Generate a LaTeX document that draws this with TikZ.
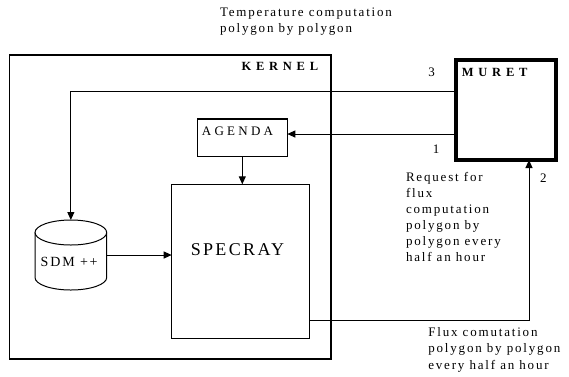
\documentclass[tikz,border=0pt]{standalone}
\usepackage{fontspec}
\setmainfont{Liberation Serif}
\newfontfamily\txtfont{Liberation Serif}[LetterSpace=14]
\newfontfamily\capfont{Liberation Serif}[LetterSpace=25]
\newfontfamily\bigfont{Liberation Serif}[LetterSpace=13]
\newfontfamily\boldcap{Liberation Serif}[LetterSpace=38]
\usetikzlibrary{arrows.meta}
\begin{document}
\begin{tikzpicture}[x=1pt,y=-1pt,
  rect/.style={draw, rectangle, inner sep=0pt, outer sep=0pt},
  thinbox/.style={rect, line width=1.3pt},
  conn/.style={line width=1pt},
  arr/.style={conn, -{Triangle[length=8pt,width=7pt]}},
  lbl/.style={inner sep=0pt, outer sep=0pt, font=\fontsize{13pt}{16pt}\selectfont\txtfont, align=left},
  num/.style={inner sep=0pt, font=\fontsize{13pt}{15pt}\selectfont\txtfont}]
\useasboundingbox (0,0) rectangle (569,376);

% boxes
\node[thinbox, minimum width=321.7pt, minimum height=304pt] (kernel) at (170.15,207) {};
\node[rect, line width=3.3pt, minimum width=100pt, minimum height=100pt] (muret) at (506,110) {};
\node[thinbox, minimum width=90pt, minimum height=37.7pt] (agenda) at (242.3,137.85) {};
\node[thinbox, minimum width=137.6pt, minimum height=154pt] (specray) at (240.5,261.3) {};
\node[inner sep=0pt, outer sep=0pt, minimum width=71.7pt, minimum height=70pt] (sdm) at (70.85,255) {};

% cylinder
\draw[conn] (70.85,232.5) ellipse [x radius=35.85pt, y radius=12.5pt];
\draw[conn] (35,232.5) -- (35,277.5) arc[start angle=180, end angle=360, x radius=35.85pt, y radius=12.5pt] -- (106.7,232.5);

% box labels
\node[inner sep=0pt, anchor=east, font=\fontsize{12.5pt}{14pt}\selectfont\boldcap\bfseries] (kernellbl) at (318.3,66) {KERNEL};
\node[inner sep=0pt, anchor=west, font=\fontsize{12.5pt}{14pt}\selectfont\boldcap\bfseries] (muretlbl) at (461.7,72.7) {MURET};
\node[inner sep=0pt, anchor=west, font=\fontsize{13pt}{15pt}\selectfont\capfont] (agendalbl) at (201.7,131) {AGENDA};
\node[inner sep=0pt, font=\fontsize{18pt}{20pt}\selectfont\bigfont] (specraylbl) at (237.5,250) {SPECRAY};
\node[inner sep=0pt, font=\fontsize{14pt}{16pt}\selectfont\bigfont] (sdmlbl) at (69.2,262.3) {SDM ++};

% connectors
\draw[arr] ([yshift=18.3pt]muret.west) -| (sdm.north);
\draw[arr] ([yshift=-24pt]muret.west) -- ([yshift=-24pt]muret.west -| agenda.east);
\draw[arr] (agenda.south) -- (agenda.south |- specray.north);
\draw[arr] (sdm.east) -- (sdm.east -| specray.west);
\draw[arr] ([yshift=-59.4pt]specray.east) -| ([xshift=23pt]muret.south);

% numbers
\node[num] (n3) at (431.7,72.7) {3};
\node[num] (n1) at (436,149.3) {1};
\node[num] (n2) at (543.3,178.3) {2};

% free texts
\node[lbl, anchor=west] (temp) at (220,21.3) {Temperature computation\\polygon by polygon};
\node[lbl, anchor=west] (req) at (406,216.7) {Request for\\flux\\computation\\polygon by\\polygon every\\half an hour};
\node[lbl, anchor=west, font=\fontsize{13pt}{16.5pt}\selectfont\txtfont] (flux) at (428.3,349.5) {Flux comutation\\polygon by polygon\\every half an hour};
\end{tikzpicture}
\end{document}
